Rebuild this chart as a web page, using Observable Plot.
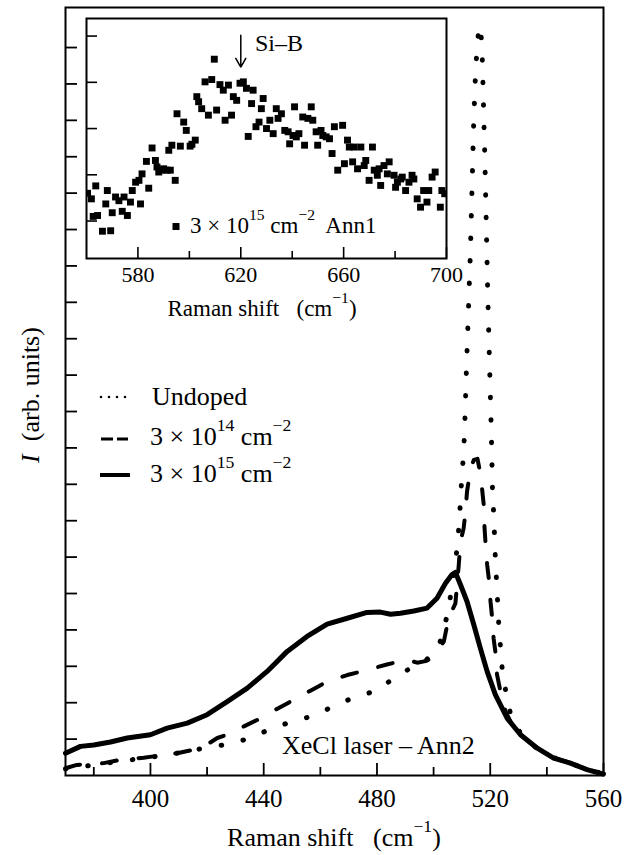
<!DOCTYPE html>
<html><head><meta charset="utf-8">
<script src="https://cdn.jsdelivr.net/npm/d3@7"></script>
<script src="https://cdn.jsdelivr.net/npm/@observablehq/plot@0.6"></script>
<style>
body{margin:0;background:#fff;}
#wrap{position:relative;width:634px;height:855px;font-family:'Liberation Serif','Times New Roman',Times,'Nimbus Roman','DejaVu Serif',serif;}
#wrap svg{position:absolute;left:0;top:0;}
#wrap svg text{font-family:'Liberation Serif','Times New Roman',Times,'Nimbus Roman','DejaVu Serif',serif;}
</style></head><body><div id="wrap"></div>
<script>
// ---------- data (Raman shift cm^-1, intensity arb. units) ----------
const undoped = [[370,0.18],[380,0.29],[390,0.40],[400,0.50],[410,0.62],[422.4,0.80],[430,0.89],[437.7,1.12],[444.7,1.35],[452.4,1.53],[458.9,1.67],[465.3,1.94],[473,2.17],[480.6,2.35],[486.5,2.72],[492,2.95],[497,3.15],[499.5,3.32],[502,3.6],[503.6,4.0],[505.3,4.6],[506.5,5.19],[507.7,5.83],[508.5,6.43],[509.2,7.07],[509.5,7.66],[510.1,8.30],[510.6,8.90],[510.9,9.37],[511.6,11.18],[512.4,13.02],[513.0,14.40],[513.6,16.24],[514.2,18.05],[514.8,19.29],[515.4,20.08],[516.0,20.5],[516.5,20.6],[517.1,19.97],[517.5,18.79],[518.1,16.95],[518.6,15.14],[519.1,13.30],[519.7,11.46],[520.4,9.37],[520.6,8.6],[520.8,7.8],[521.2,7.21],[521.5,6.61],[521.8,5.97],[522.2,5.38],[522.6,4.78],[523.0,4.14],[523.6,3.54],[524.2,2.95],[525.4,2.35],[527.1,1.71],[530.7,1.15],[536,0.78],[542,0.5],[548,0.35],[554,0.17],[559,0.07]];
const dose14 = [[370,0.20],[374,0.29],[383.5,0.34],[389.4,0.43],[397.6,0.49],[409.4,0.61],[415.3,0.71],[420,0.85],[423.6,1.03],[427,1.12],[433,1.35],[438.9,1.57],[444.5,1.82],[450.6,2.08],[456.5,2.33],[462.4,2.58],[469.5,2.76],[476.5,2.90],[483.5,3.05],[490.6,3.18],[494.2,3.10],[497.5,3.15],[500,3.27],[503.6,3.68],[505.3,4.32],[507.7,4.73],[508.9,5.80],[509.5,6.43],[510.6,6.79],[511.2,7.2],[511.8,7.80],[513,8.4],[514.2,8.67],[515.5,8.7],[516.5,8.3],[517.1,7.89],[517.7,7.44],[518.0,6.79],[518.3,6.43],[518.9,5.80],[519.5,5.41],[520.1,4.78],[520.7,4.31],[521.2,3.76],[521.8,3.41],[522.4,2.77],[523.6,2.31],[525.4,1.76],[528,1.35],[531,1.1],[536,0.78],[542,0.5],[548,0.35],[554,0.17],[559,0.07]];
const dose15 = [[370,0.61],[375.3,0.80],[380,0.84],[385.9,0.92],[391.8,1.03],[400,1.12],[405.9,1.30],[413,1.44],[420,1.67],[427.1,2.03],[434.2,2.40],[441.2,2.86],[448.3,3.41],[455.3,3.82],[462.4,4.16],[469.5,4.32],[476.5,4.48],[481.2,4.49],[484.8,4.43],[488.3,4.46],[493,4.52],[497.7,4.60],[501.2,4.87],[504.2,5.28],[506.5,5.52],[507.7,5.58],[509.5,5.24],[511.8,4.78],[514.2,4.14],[516.5,3.50],[518.9,2.86],[521.8,2.22],[526.0,1.57],[530.7,1.12],[536.6,0.75],[542.4,0.48],[548.3,0.34],[554.2,0.16],[558.9,0.06],[560,0.04]];
// inset: 3e15 cm^-2 Ann1
const insetPts = [[560.4,1.60],[561.9,1.48],[563.6,1.76],[562.6,1.10],[564.3,1.12],[566.2,0.78],[568.1,1.66],[567.5,1.37],[569.4,0.79],[570.0,1.18],[571.3,1.52],[572.6,1.44],[573.9,1.21],[574.6,1.52],[575.9,1.12],[577.1,1.41],[577.8,1.66],[579.1,1.84],[580.4,1.88],[581.0,1.37],[581.6,2.02],[583.3,2.29],[584.2,1.71],[585.5,2.58],[586.8,2.31],[587.4,2.17],[588.1,2.06],[589.4,2.10],[590.0,2.13],[591.3,2.10],[592.0,2.53],[592.6,2.10],[593.2,2.64],[594.5,1.88],[595.2,3.32],[596.5,2.62],[597.8,3.14],[598.8,2.96],[600.3,2.62],[601.0,2.66],[602.3,2.75],[602.9,3.69],[603.6,3.58],[604.8,3.43],[606.1,4.01],[607.4,3.29],[608.7,4.06],[609.7,4.50],[610.6,3.40],[611.9,3.95],[613.2,3.83],[613.9,3.18],[615.2,3.94],[616.4,3.29],[617.1,3.69],[618.4,3.61],[619.7,3.98],[621.0,4.01],[622.2,3.87],[622.9,2.83],[624.2,3.54],[624.8,3.83],[625.9,3.04],[627.1,3.14],[628.0,3.43],[628.7,3.65],[630.0,3.00],[631.3,3.18],[632.6,2.89],[633.8,3.43],[634.5,3.22],[635.8,3.32],[637.1,2.96],[638.4,2.93],[639.0,2.67],[640.3,2.85],[640.9,3.47],[641.6,2.82],[642.6,2.89],[644.1,3.25],[644.8,2.64],[646.1,3.22],[647.4,3.47],[648.0,3.18],[649.3,2.93],[649.9,2.64],[651.2,2.96],[651.9,2.85],[653.2,2.82],[654.5,2.78],[655.5,2.46],[656.4,3.04],[657.7,2.10],[659.6,3.07],[660.3,2.24],[661.5,2.75],[662.2,2.60],[663.5,2.28],[664.1,2.60],[665.4,2.13],[666.7,2.60],[668.0,2.20],[668.6,2.31],[669.9,1.88],[671.2,2.60],[671.9,2.10],[673.1,1.99],[673.8,2.13],[674.4,1.77],[675.7,2.20],[677.0,2.02],[677.7,2.28],[679.6,1.99],[680.2,1.73],[680.9,1.84],[682.2,1.91],[682.8,1.95],[684.1,1.66],[685.4,1.84],[686.6,1.99],[687.3,1.91],[688.6,1.48],[689.9,1.30],[691.1,1.66],[692.4,1.41],[693.1,1.66],[694.4,1.95],[695.6,2.06],[697.6,1.30],[698.2,1.66],[699.3,1.59]];
const siBPeak = [{x: 620, from: 5.02, to: 4.33}];
// ticks
const xMajor = [400, 440, 480, 520, 560];
const xMinor = [380, 420, 460, 500, 540];
const yTicks = d3.range(1, 21);
const inXMajor = [580, 620, 660, 700];
const inXMinor = [600, 640, 680];
const inYTicks = [1, 2, 3, 4, 5];

const serif = "'Liberation Serif','Times New Roman',Times,'Nimbus Roman','DejaVu Serif',serif";
const toRows = a => a.map(([x, y]) => ({x, y}));
const blank = () => "";
// inward ticks: outward-type ticks shifted back inside the frame
const inX = (ticks, len, sw) => Plot.axisX({ticks, tickSize: len, dy: -len, tickFormat: blank, label: null, strokeWidth: sw});
const inY = (ticks, len, sw) => Plot.axisY({ticks, tickSize: len, dx: len, tickFormat: blank, label: null, strokeWidth: sw});

const main = Plot.plot({
  width: 634, height: 855,
  marginLeft: 65, marginRight: 31, marginTop: 7, marginBottom: 80,
  style: {fontFamily: serif, color: "black", background: "white", overflow: "visible"},
  x: {domain: [370, 560], label: null},
  y: {domain: [0, 21.1], label: null},
  marks: [
    Plot.line(toRows(undoped), {x: "x", y: "y", stroke: "black", strokeWidth: 5, strokeDasharray: "0.5,22", strokeLinecap: "round"}),
    Plot.line(toRows(dose14), {x: "x", y: "y", stroke: "black", strokeWidth: 4, strokeDasharray: "15,22"}),
    Plot.line(toRows(dose15), {x: "x", y: "y", stroke: "black", strokeWidth: 5, strokeLinejoin: "round"}),
    inX(xMajor, 12, 1.8),
    inX(xMinor, 8, 1.8),
    Plot.axisX({ticks: xMajor, tickSize: 0, tickPadding: 14, fontSize: 25, fontFamily: serif, label: null}),
    inY(yTicks, 12, 1.8),
    Plot.frame({strokeWidth: 2})
  ]
});

const inset = Plot.plot({
  width: 460, height: 330,
  marginLeft: 86, marginRight: 14, marginTop: 18, marginBottom: 72,
  style: {fontFamily: serif, color: "black", background: "none", overflow: "visible"},
  x: {domain: [560, 700], label: null},
  y: {domain: [0.19, 5.38], label: null},
  marks: [
    Plot.frame({fill: "white", stroke: null}),
    Plot.dot(toRows(insetPts), {x: "x", y: "y", symbol: "square", r: 3.9, fill: "black", stroke: null, clip: true}),
    Plot.arrow(siBPeak, {x1: "x", x2: "x", y1: "from", y2: "to", stroke: "black", strokeWidth: 1.5, headLength: 10}),
    inX(inXMajor, 11, 1.6),
    inX(inXMinor, 7, 1.6),
    Plot.axisX({ticks: inXMajor, tickSize: 0, tickPadding: 8, fontSize: 22, fontFamily: serif, label: null}),
    inY(inYTicks, 11, 1.6),
    Plot.frame({strokeWidth: 2})
  ]
});

const wrap = document.getElementById("wrap");
wrap.appendChild(main);
wrap.appendChild(inset);

// ---------- text overlay: labels, legend, annotations ----------
const ov = d3.create("svg").attr("width", 634).attr("height", 855)
  .style("pointer-events", "none");
function label(x, y, size, parts, opts = {}) {
  const t = ov.append("text").attr("x", x).attr("y", y).attr("font-size", size)
    .attr("font-family", serif)
    .attr("fill", "black").style("white-space", "pre")
    .attr("text-anchor", opts.anchor || "start");
  if (opts.transform) t.attr("transform", opts.transform).attr("x", 0).attr("y", 0);
  let raised = 0;
  const sup = size * 0.68, rise = size * 0.55;
  for (const p of parts) {
    const [s, kind] = Array.isArray(p) ? p : [p, "n"];
    const ts = t.append("tspan").text(s);
    if (kind === "s") {
      ts.attr("font-size", sup);
      if (!raised) { ts.attr("dy", -rise); raised = 1; }
    } else {
      if (raised) { ts.attr("dy", rise); raised = 0; }
      if (kind === "i") ts.attr("font-style", "italic");
    }
  }
  return t;
}
// main axis labels
label(334, 846, 26, ["Raman shift   (cm", ["−1", "s"], ")"], {anchor: "middle"});
label(0, 0, 26, [["I", "i"], "  (arb. units)"], {anchor: "middle", transform: "translate(39,395) rotate(-90)"});
// inset axis label + annotations
label(262, 316, 23, ["Raman shift   (cm", ["−1", "s"], ")"], {anchor: "middle"});
label(255, 51, 24, ["Si–B"]);
ov.append("rect").attr("x", 172.5).attr("y", 223).attr("width", 7).attr("height", 7).attr("fill", "black");
label(190, 233, 23, ["3 × 10", ["15", "s"], " cm", ["−2", "s"], "  Ann1"]);
// main annotation
label(282, 754, 26, ["XeCl laser – Ann2"]);
// legend
ov.append("line").attr("x1", 101).attr("x2", 126).attr("y1", 397).attr("y2", 397)
  .attr("stroke", "black").attr("stroke-width", 2.6).attr("stroke-linecap", "round").attr("stroke-dasharray", "0,8");
ov.append("line").attr("x1", 101).attr("x2", 128).attr("y1", 439).attr("y2", 439)
  .attr("stroke", "black").attr("stroke-width", 3).attr("stroke-dasharray", "12,4");
ov.append("line").attr("x1", 100).attr("x2", 130).attr("y1", 475).attr("y2", 475)
  .attr("stroke", "black").attr("stroke-width", 4);
label(152, 405, 26, ["Undoped"]);
label(150, 445, 26, ["3 × 10", ["14", "s"], " cm", ["−2", "s"]]);
label(150, 482, 26, ["3 × 10", ["15", "s"], " cm", ["−2", "s"]]);
wrap.appendChild(ov.node());
</script></body></html>
